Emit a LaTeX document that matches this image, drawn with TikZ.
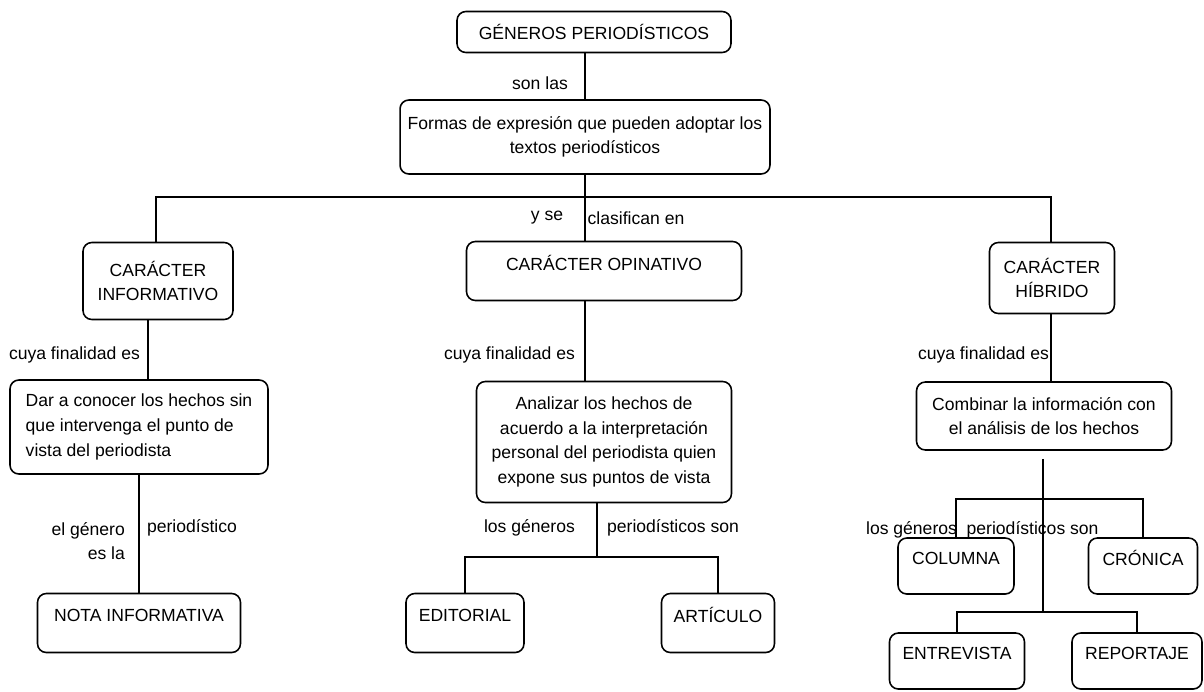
\documentclass[tikz,border=0pt]{standalone}
\usepackage{fontspec}
\setmainfont{Liberation Sans}
\tikzset{
  caja/.style={draw, line width=0.9pt, rounded corners=5pt, align=center, inner sep=2pt},
  baja/.style={caja, text depth=0.32cm},
  etiq/.style={inner sep=1pt},
  linea/.style={line width=0.9pt}
}
\begin{document}
\begin{tikzpicture}[x=0.02cm, y=-0.02cm, every node/.style={font=\fontsize{10}{14}\selectfont}]
\useasboundingbox (0,0) rectangle (1204,691);

\node [caja, minimum width=5.48cm, minimum height=0.82cm] (gen) at (594,32) {GÉNEROS PERIODÍSTICOS};
\node [caja, minimum width=7.4cm, minimum height=1.48cm] (formas) at (585,137) {Formas de expresión que pueden adoptar los\\textos periodísticos};

\node [caja, minimum width=3cm, minimum height=1.54cm] (inf) at (158,281) {CARÁCTER\\INFORMATIVO};
\node [baja, minimum width=5.5cm, minimum height=1.18cm] (opi) at (604,271) {CARÁCTER OPINATIVO};
\node [caja, minimum width=2.5cm, minimum height=1.42cm] (hib) at (1052,278) {CARÁCTER\\HÍBRIDO};

\node [caja, align=left, minimum width=5.16cm, minimum height=1.88cm] (dar) at (139,427) {Dar a conocer los hechos sin\\que intervenga el punto de\\vista del periodista};
\node [caja, minimum width=5.1cm, minimum height=2.42cm] (ana) at (604,442) {Analizar los hechos de\\acuerdo a la interpretación\\personal del periodista quien\\expone sus puntos de vista};
\node [caja, minimum width=5.1cm, minimum height=1.36cm] (com) at (1044,416) {Combinar la información con\\el análisis de los hechos};

\node [baja, minimum width=4.06cm, minimum height=1.18cm] (nota) at (139,623) {NOTA INFORMATIVA};
\node [baja, minimum width=2.36cm, minimum height=1.18cm] (edi) at (465,623) {EDITORIAL};
\node [baja, minimum width=2.26cm, minimum height=1.18cm] (art) at (718,623) {ARTÍCULO};

\node [baja, minimum width=2.32cm, minimum height=1.12cm] (col) at (956,566) {COLUMNA};
\node [baja, minimum width=2.18cm, minimum height=1.12cm] (cro) at (1143,566) {CRÓNICA};
\node [baja, minimum width=2.7cm, minimum height=1.12cm] (ent) at (957,661) {ENTREVISTA};
\node [baja, minimum width=2.6cm, minimum height=1.12cm] (rep) at (1137,661) {REPORTAJE};

% puntos de las barras
\coordinate (bi) at (156,197);
\coordinate (bd) at (1051,197);
\coordinate (ba) at (597,557);
\coordinate (bc1) at (1043,499);
\coordinate (bc2) at (1043,612);

\draw [linea] (formas.north) -- (formas.north |- gen.south);
\draw [linea] (formas.south) -- (formas.south |- opi.north);
\draw [linea] (inf.north -| bi) -- (bi) -- (bd) -- (bd |- hib.north);

\draw [linea] ([xshift=-0.2cm]inf.south) -- ([xshift=-0.2cm]inf.south |- dar.north);
\draw [linea] (formas.south |- opi.south) -- (formas.south |- ana.north);
\draw [linea] (bd |- hib.south) -- (bd |- com.north);

\draw [linea] (dar.south) -- (nota.north);
\draw [linea] (ba |- ana.south) -- (ba);
\draw [linea] (edi.north) |- (ba) -| (art.north);

\draw [linea] ([yshift=-0.16cm]bc1 |- com.south) -- (bc2);
\draw [linea] (col.north) |- (bc1) -| (cro.north);
\draw [linea] (ent.north) |- (bc2) -| (rep.north);

\node [etiq] (l1) at (540,83) {son las};
\node [etiq] (l2) at (547,218) {y se};
\node [etiq] (l3) at (636,218) {clasifican en};
\node [etiq, anchor=east] (l4) at (142,355) {cuya finalidad es};
\node [etiq, anchor=east] (l5) at (577,355) {cuya finalidad es};
\node [etiq, anchor=east] (l6) at (1051,355) {cuya finalidad es};
\node [etiq, anchor=north east, align=right] (l7) at (127,520) {el género\\es la};
\node [etiq, anchor=west] (l8) at (145,528) {periodístico};
\node [etiq, anchor=east] (l9) at (577,528) {los géneros};
\node [etiq, anchor=west] (l10) at (605,528) {periodísticos son};
\node [etiq, anchor=west] (l11) at (864,530) {los géneros\ \ periodísticos son};

\end{tikzpicture}
\end{document}
